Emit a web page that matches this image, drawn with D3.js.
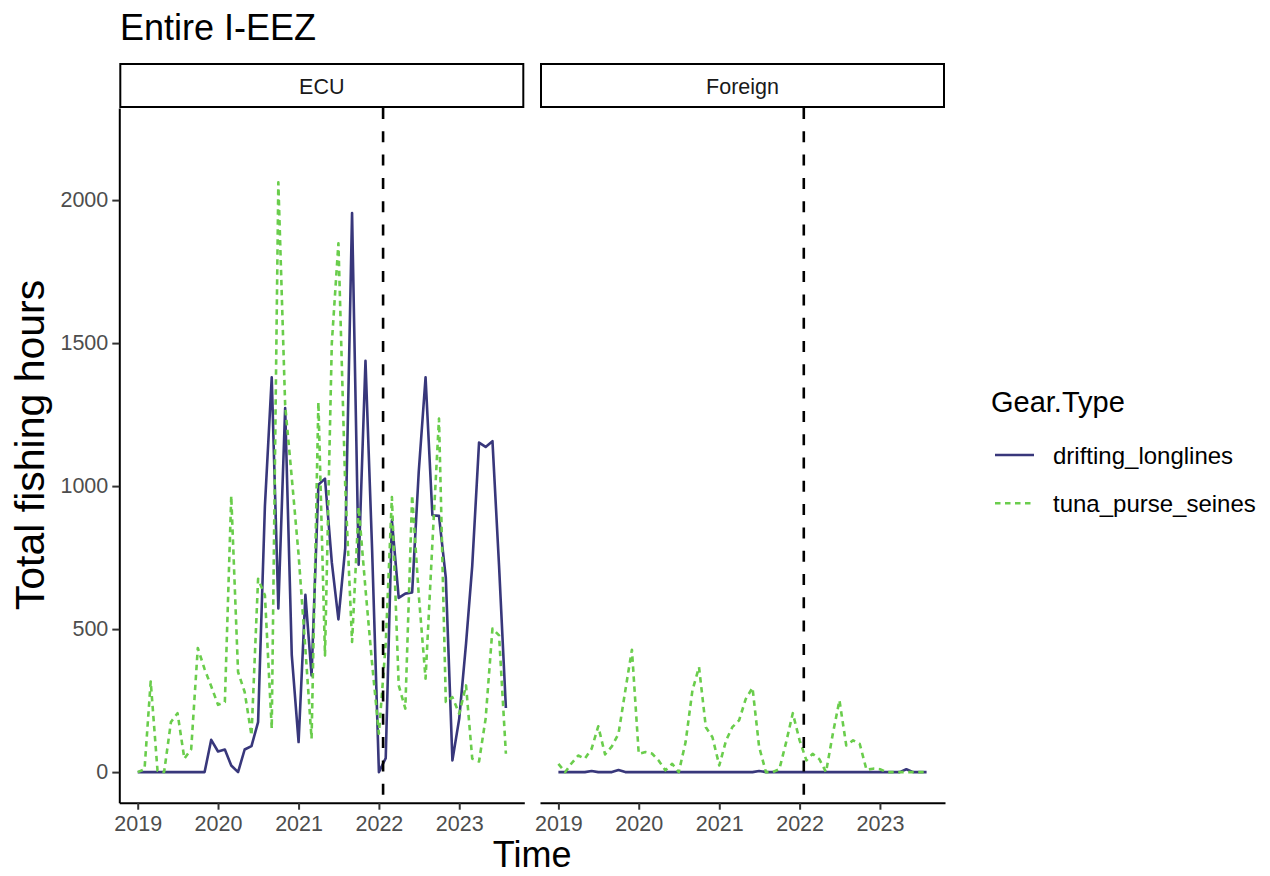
<!DOCTYPE html>
<html>
<head>
<meta charset="utf-8">
<script src="https://cdn.jsdelivr.net/npm/d3@7"></script>
<style>
    body { margin: 0; background: #fff; }
    text { font-family: "Liberation Sans", Arial, sans-serif; }
</style>
</head>
<body>
<div id="chart"></div>
<script>
// facets and legend entries
const panels = ['ECU', 'Foreign'];
const gearTypes = ['drifting_longlines', 'tuna_purse_seines'];

// monthly totals, Jan 2019 .. Aug 2023
const ecuLonglines = [0, 0, 0, 0, 0, 0, 0, 0, 0, 0, 0, 113,
    72, 79, 23, 0, 79, 91, 175, 930, 1380, 572, 1273, 410,
    105, 620, 338, 1005, 1026, 733, 534, 783, 1955, 725, 1438, 780,
    0, 49, 880, 609, 624, 628, 1050, 1380, 898, 896, 680, 41,
    187, 450, 720, 1152, 1137, 1157, 720, 224];
const ecuPurseSeines = [0, 10, 317, 5, 0, 175, 206, 47, 80, 434, 360, 300,
    235, 245, 966, 350, 280, 128, 676, 618, 152, 2062, 1283, 1030,
    760, 430, 117, 1294, 408, 1500, 1849, 1000, 455, 927, 640, 380,
    134, 450, 962, 303, 222, 968, 620, 327, 800, 1236, 245, 262,
    204, 303, 47, 37, 187, 502, 478, 64];
const foreignLonglines = [0, 0, 0, 0, 0, 4, 0, 0, 0, 7, 0, 0,
    0, 0, 0, 0, 0, 0, 0, 0, 0, 0, 0, 0,
    0, 0, 0, 0, 0, 0, 4, 0, 0, 0, 0, 0,
    0, 0, 0, 0, 0, 0, 0, 0, 0, 0, 0, 0,
    0, 0, 0, 0, 10, 0, 0, 0];
const foreignPurseSeines = [29, 0, 30, 58, 47, 82, 160, 62, 90, 134, 285, 428,
    64, 70, 65, 40, 6, 29, 0, 105, 286, 367, 157, 122,
    23, 111, 157, 181, 255, 295, 88, 0, 0, 10, 105, 206,
    111, 41, 64, 45, 0, 134, 251, 93, 111, 99, 8, 12,
    10, 0, 0, 0, 0, 0, 0, 0];

const xTickYears = [2019, 2020, 2021, 2022, 2023];
const yTicks = [0, 500, 1000, 1500, 2000];
const cutoffDate = new Date(Date.UTC(2022, 0, 20));

const months = d3.utcMonth.range(new Date(Date.UTC(2019, 0, 1)), new Date(Date.UTC(2023, 8, 1)));
const series = {
    ECU: [ecuLonglines, ecuPurseSeines],
    Foreign: [foreignLonglines, foreignPurseSeines]
};

const colors = ['#38377b', '#6acd4c'];
const dashes = [null, '5.5,4.5'];

const width = 1270;
const height = 876;
const panelTop = 108;
const panelBottom = 802.7;
const panelLefts = [119.3, 540];
const panelWidth = 405;

const svg = d3.select('#chart')
    .append('svg')
    .attr('width', width)
    .attr('height', height);

// shared y scale (5% expansion like ggplot)
const yScale = d3.scaleLinear()
    .domain([-107, 2322])
    .range([panelBottom, panelTop]);

const t0 = months[0].getTime();
const t1 = months[months.length - 1].getTime();
const pad = (t1 - t0) * 0.05;

panels.forEach((panel, p) => {
    const left = panelLefts[p];
    const xScale = d3.scaleUtc()
        .domain([new Date(t0 - pad), new Date(t1 + pad)])
        .range([left, left + panelWidth]);

    const g = svg.append('g');

    // strip
    g.append('rect')
        .attr('x', left + 1)
        .attr('y', 64)
        .attr('width', panelWidth - 2)
        .attr('height', 43)
        .attr('fill', '#fff')
        .attr('stroke', '#000')
        .attr('stroke-width', 2);
    g.append('text')
        .attr('x', left + panelWidth / 2)
        .attr('y', 93.5)
        .attr('text-anchor', 'middle')
        .style('font-size', '21.5px')
        .attr('fill', '#1a1a1a')
        .text(panel);

    // x axis
    const xAxis = g.append('g')
        .attr('transform', `translate(0, ${panelBottom})`)
        .call(d3.axisBottom(xScale)
            .tickValues(xTickYears.map(y => new Date(Date.UTC(y, 0, 1))))
            .tickFormat(d3.utcFormat('%Y'))
            .tickSizeOuter(0)
            .tickSizeInner(7)
            .tickPadding(6));
    xAxis.select('.domain').attr('stroke', '#000').attr('stroke-width', 2);
    xAxis.selectAll('.tick line').attr('stroke', '#333').attr('stroke-width', 2);
    xAxis.selectAll('.tick text')
        .style('font-size', '21.5px')
        .style('font-family', '"Liberation Sans", Arial, sans-serif')
        .attr('fill', '#4d4d4d');

    if (p === 0) {
        const yAxis = g.append('g')
            .attr('transform', `translate(${left}, 0)`)
            .call(d3.axisLeft(yScale)
                .tickValues(yTicks)
                .tickFormat(d3.format('d'))
                .tickSizeOuter(0)
                .tickSizeInner(7)
                .tickPadding(4));
        yAxis.select('.domain').attr('stroke', '#000').attr('stroke-width', 2);
        yAxis.selectAll('.tick line').attr('stroke', '#333').attr('stroke-width', 2);
        yAxis.selectAll('.tick text')
            .style('font-size', '21.5px')
            .style('font-family', '"Liberation Sans", Arial, sans-serif')
            .attr('fill', '#4d4d4d');
    }

    const line = d3.line()
        .x((d, i) => xScale(months[i]))
        .y(d => yScale(d));

    series[panel].forEach((values, s) => {
        g.append('path')
            .datum(values)
            .attr('fill', 'none')
            .attr('stroke', colors[s])
            .attr('stroke-width', 2.6)
            .attr('stroke-dasharray', dashes[s])
            .attr('stroke-linejoin', 'round')
            .attr('d', line);
    });

    // cutoff line
    g.append('line')
        .attr('x1', xScale(cutoffDate))
        .attr('x2', xScale(cutoffDate))
        .attr('y1', panelTop)
        .attr('y2', panelBottom)
        .attr('stroke', '#000')
        .attr('stroke-width', 2.6)
        .attr('stroke-dasharray', '11,12.3');
});

// titles
svg.append('text')
    .attr('x', 120)
    .attr('y', 40)
    .style('font-size', '36px')
    .text('Entire I-EEZ');

svg.append('text')
    .attr('transform', 'translate(44, 445) rotate(-90)')
    .attr('text-anchor', 'middle')
    .style('font-size', '41px')
    .text('Total fishing hours');

svg.append('text')
    .attr('x', (panelLefts[0] + panelLefts[1] + panelWidth) / 2)
    .attr('y', 867)
    .attr('text-anchor', 'middle')
    .style('font-size', '36px')
    .text('Time');

// legend
const legend = svg.append('g');
legend.append('text')
    .attr('x', 991)
    .attr('y', 412)
    .style('font-size', '29px')
    .text('Gear.Type');

gearTypes.forEach((gear, s) => {
    const ly = 455 + s * 48.3;
    legend.append('line')
        .attr('x1', 995)
        .attr('x2', 1034)
        .attr('y1', ly)
        .attr('y2', ly)
        .attr('stroke', colors[s])
        .attr('stroke-width', 2.6)
        .attr('stroke-dasharray', dashes[s]);
    legend.append('text')
        .attr('x', 1053)
        .attr('y', ly + 8.5)
        .style('font-size', '24px')
        .text(gear);
});
</script>
</body>
</html>
